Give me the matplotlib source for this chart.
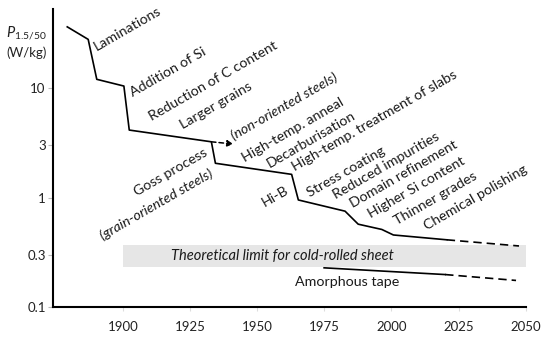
import matplotlib
matplotlib.use("Agg")
import matplotlib.pyplot as plt

# main loss curve for electrical steel (W/kg at 1.5 T, 50 Hz)
years = [1879.2, 1887.0, 1890.2, 1900.3, 1902.3, 1932.9, 1934.4, 1962.8,
         1965.3, 1982.7, 1987.6, 1996.4, 2000.7, 2020.6]
loss = [36.6, 28.1, 12.1, 10.5, 4.15, 3.24, 2.06, 1.63,
        0.95, 0.75, 0.57, 0.51, 0.454, 0.41]
future_years = [2020.6, 2047.5]
future_loss = [0.41, 0.36]

# branch to non-oriented steels
branch_years = [1932.9, 1941.1]
branch_loss = [3.24, 3.09]

# amorphous tape
amorph_years = [1974.9, 2020.0]
amorph_loss = [0.227, 0.197]
amorph_future_years = [2020.0, 2046.4]
amorph_future_loss = [0.197, 0.174]

# theoretical limit band
limit_years = [1900, 2050]
limit_low = 0.232
limit_high = 0.37

labels = ["Laminations", "Addition of Si", "Reduction of C content",
          "Larger grains", "(non-oriented steels)", "High-temp. anneal",
          "Decarburisation", "High-temp. treatment of slabs", "Stress coating",
          "Reduced impurities", "Domain refinement", "Higher Si content",
          "Thinner grades", "Chemical polishing", "Goss process",
          "(grain-oriented steels)", "Hi-B"]
label_pos = [(1890.3, 22), (1903.7, 8.3), (1910.8, 5.0), (1922.3, 4.24),
             (1941.3, 3.35), (1945.4, 2.11), (1954.7, 1.86), (1964.0, 1.75),
             (1969.6, 1.01), (1979.3, 0.97), (1985.7, 0.80), (1992.4, 0.64),
             (2002.0, 0.56), (2013.2, 0.50), (1905.2, 1.03), (1892.6, 0.41),
             (1952.9, 0.82)]
italic_labels = {"(non-oriented steels)", "(grain-oriented steels)"}

yticks = [0.1, 0.3, 1, 3, 10]
ytick_labels = ["0.1", "0.3", "1", "3", "10"]
xticks = [1900, 1925, 1950, 1975, 2000, 2025, 2050]

plt.rcParams["font.family"] = ["Lato", "DejaVu Sans"]
plt.rcParams["mathtext.fontset"] = "custom"
plt.rcParams["mathtext.rm"] = "Lato"
plt.rcParams["mathtext.it"] = "Lato:italic"

fig = plt.figure(figsize=(5.5, 3.38), dpi=100)
ax = fig.add_axes([0.0969, 0.0926, 0.9558 - 0.0969, 0.9725 - 0.0926])

ax.set_yscale("log")
ax.set_xlim(1874, 2050)
ax.set_ylim(0.1, 53)

ax.fill_between(limit_years, limit_low, limit_high, color="#e6e6e6", lw=0, zorder=1)
ax.text(1959.2, (limit_low * limit_high) ** 0.5,
        "Theoretical limit for cold-rolled sheet", style="italic",
        fontsize=10.5, ha="center", va="center", color="#1a1a1a", zorder=3)

ax.plot(years, loss, color="black", lw=1.2, zorder=4)
ax.plot(future_years, future_loss, color="black", lw=1.2, ls=(0, (5, 3)), zorder=4)
ax.plot(amorph_years, amorph_loss, color="black", lw=1.2, zorder=4)
ax.plot(amorph_future_years, amorph_future_loss, color="black", lw=1.2,
        ls=(0, (5, 3)), zorder=4)
ax.annotate("", xy=(branch_years[1], branch_loss[1]),
            xytext=(branch_years[0], branch_loss[0]),
            arrowprops=dict(arrowstyle="-|>,head_length=0.35,head_width=0.18",
                            ls=(0, (3, 2)), lw=1.1, color="black",
                            shrinkA=0, shrinkB=0), zorder=4)

ax.text(1964.0, 0.155, "Amorphous tape", fontsize=10.3, ha="left",
        va="baseline", color="#1a1a1a")

for lab, (x, y) in zip(labels, label_pos):
    ax.text(x, y, lab, rotation=30, rotation_mode="anchor", ha="left",
            va="baseline", fontsize=10.3, color="#1a1a1a",
            style="italic" if lab in italic_labels else "normal")

for s in ["top", "right"]:
    ax.spines[s].set_visible(False)
for s in ["left", "bottom"]:
    ax.spines[s].set_linewidth(1.5)

ax.set_yticks(yticks)
ax.set_yticklabels(ytick_labels)
ax.minorticks_off()
ax.set_xticks(xticks)
ax.tick_params(axis="y", length=3.5, width=0.8, color="#bbbbbb", pad=2,
               labelsize=9.5, labelcolor="#222222")
ax.tick_params(axis="x", length=3, width=0.8, color="#dddddd", pad=7,
               labelsize=9.5, labelcolor="#222222")

fig.text(0.048, 0.902, r"$\mathit{P}_{\mathrm{1.5/50}}$", ha="center",
         va="center", fontsize=10.5, color="#222222")
fig.text(0.048, 0.843, "(W/kg)", ha="center", va="center", fontsize=9.5,
         color="#222222")

fig.savefig("out.png", dpi=100)
